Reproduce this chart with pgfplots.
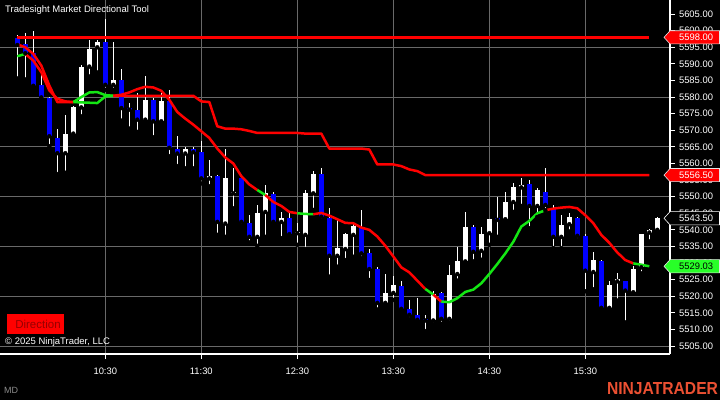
\documentclass[border=0pt]{standalone}
\usepackage{pgfplots}
\pgfplotsset{compat=1.18}
\usepackage{pgfplotstable}
\usepackage{fontspec}
\setmainfont{Liberation Sans}

\definecolor{ntblue}{RGB}{0,0,255}
\definecolor{ntred}{RGB}{255,0,0}
\definecolor{ntgreen}{RGB}{20,230,20}
\definecolor{boxgreen}{RGB}{40,255,40}
\definecolor{gridc}{RGB}{105,105,105}
\definecolor{logoc}{RGB}{235,80,50}
\definecolor{dirtext}{RGB}{150,0,0}
\definecolor{mdgray}{RGB}{140,140,140}

% up bars (white): close >= open
\pgfplotstableread{
i o h l c
6 5563.1 5574.5 5557.2 5569.0
7 5569.0 5577.4 5568.6 5576.9
8 5576.9 5589.7 5574.2 5589.2
9 5589.2 5597.2 5586.2 5594.5
10 5595.0 5597.2 5587.4 5596.5
12 5583.7 5596.7 5582.2 5585.2
16 5573.2 5586.4 5572.4 5579.2
18 5572.7 5581.2 5572.4 5578.7
21 5563.0 5565.0 5558.5 5564.5
24 5555.5 5560.9 5553.1 5556.1
26 5541.9 5564.5 5537.9 5555.7
27 5551.0 5558.5 5546.5 5551.4
30 5537.9 5547.4 5535.2 5545.2
31 5545.4 5553.4 5537.9 5551.2
33 5542.4 5545.4 5537.5 5543.5
35 5539.0 5542.2 5535.5 5539.4
36 5538.5 5551.9 5534.2 5551.0
37 5551.0 5557.7 5546.0 5556.7
40 5532.2 5542.9 5528.9 5534.5
41 5534.2 5539.2 5530.9 5538.7
42 5538.5 5541.7 5531.9 5541.2
46 5518.0 5526.7 5517.5 5521.0
47 5521.0 5526.0 5518.9 5523.4
52 5512.7 5521.5 5511.5 5520.7
54 5513.2 5529.5 5512.0 5526.5
55 5526.7 5534.9 5524.7 5530.7
56 5530.5 5545.4 5529.7 5540.9
58 5533.7 5540.9 5531.0 5538.7
59 5539.0 5543.2 5535.5 5543.2
61 5543.2 5551.4 5542.9 5548.4
62 5548.4 5554.2 5545.4 5552.9
63 5552.8 5555.5 5547.2 5553.4
65 5547.2 5552.7 5543.9 5552.0
68 5537.9 5544.5 5534.5 5541.4
69 5541.7 5545.2 5539.5 5543.9
72 5527.3 5533.2 5522.1 5530.9
74 5516.5 5524.7 5516.2 5523.4
75 5524.5 5526.9 5518.7 5525.3
77 5521.2 5529.0 5521.0 5528.2
78 5528.7 5538.9 5526.9 5538.7
79 5539.2 5540.4 5536.5 5539.9
80 5540.0 5544.0 5538.9 5543.5
}\upbars

% down bars (blue): close < open
\pgfplotstableread{
i o h l c
0 5597.7 5598.7 5585.6 5595.7
1 5596.0 5599.4 5585.3 5593.2
2 5593.2 5599.9 5583.2 5583.4
3 5583.7 5587.9 5579.4 5579.9
4 5579.8 5580.0 5565.2 5568.2
5 5567.8 5570.5 5556.8 5563.1
11 5596.5 5603.6 5582.2 5583.7
13 5585.2 5588.5 5572.9 5576.7
14 5576.6 5578.2 5570.5 5576.2
15 5576.2 5581.2 5569.5 5573.2
17 5579.2 5579.7 5567.9 5572.7
19 5578.7 5582.2 5562.2 5564.7
20 5564.5 5568.4 5559.2 5563.0
22 5564.5 5565.0 5558.5 5563.4
23 5563.5 5566.7 5554.0 5555.5
25 5556.1 5556.4 5538.5 5542.4
28 5555.5 5555.7 5541.2 5542.4
29 5542.2 5544.4 5536.2 5537.9
32 5550.9 5551.4 5541.7 5542.4
34 5543.5 5545.2 5537.9 5538.7
38 5556.7 5558.5 5542.7 5543.9
39 5543.7 5546.5 5525.9 5532.2
43 5540.5 5545.9 5531.5 5532.9
44 5532.9 5534.2 5524.9 5528.2
45 5528.2 5528.7 5516.0 5518.0
48 5523.0 5524.5 5515.5 5516.2
49 5516.2 5518.9 5513.1 5514.4
50 5514.4 5519.4 5512.4 5512.9
51 5513.1 5514.4 5509.5 5512.7
53 5520.9 5521.4 5511.7 5513.2
57 5540.9 5541.5 5530.5 5533.4
60 5543.5 5549.9 5537.9 5543.0
64 5553.7 5555.0 5540.5 5547.2
66 5551.5 5558.7 5545.9 5547.5
67 5546.5 5547.5 5534.5 5537.9
70 5543.7 5543.9 5536.9 5538.2
71 5538.2 5538.7 5521.5 5527.7
73 5530.5 5530.9 5516.2 5516.5
76 5524.5 5524.5 5512.1 5521.7
}\downbars

% directional moving line
\pgfplotstableread{
i v
0 5592.3
1 5593.0
2 5591.0
3 5587.5
4 5582.0
5 5579.5
6 5578.7
7 5578.5
8 5580.0
9 5581.4
10 5581.5
11 5580.6
12 5580.4
13 5580.7
14 5581.4
15 5582.4
16 5583.1
17 5582.9
18 5581.9
19 5579.2
20 5575.5
21 5573.5
22 5571.7
23 5569.7
24 5567.7
25 5564.5
26 5561.8
27 5560.0
28 5556.2
29 5553.7
30 5552.0
31 5550.5
32 5548.4
33 5547.2
34 5545.4
35 5545.0
36 5544.8
37 5544.7
38 5545.1
39 5544.3
40 5543.2
41 5542.1
42 5542.0
43 5540.7
44 5540.0
45 5538.0
46 5535.2
47 5532.0
48 5528.7
49 5527.2
50 5524.7
51 5522.2
52 5520.5
53 5518.4
54 5518.2
55 5519.4
56 5521.3
57 5522.0
58 5523.9
59 5526.7
60 5529.7
61 5532.9
62 5536.4
63 5541.0
64 5542.7
65 5545.0
66 5545.9
67 5546.4
68 5546.7
69 5546.9
70 5546.5
71 5544.4
72 5542.0
73 5538.5
74 5536.1
75 5533.2
76 5530.9
77 5529.9
78 5529.5
79 5529.03
}\maline

% trailing step line
\pgfplotstableread{
i v
0 5595.9
1 5595.0
2 5593.0
3 5589.5
4 5583.5
5 5578.5
6 5578.5
7 5578.5
8 5578.4
9 5578.3
10 5578.2
11 5580.2
12 5580.4
22 5580.4
23 5578.7
24 5578.5
25 5571.2
26 5570.5
27 5570.5
28 5570.3
29 5569.8
30 5569.2
35 5569.2
36 5569.0
38 5569.0
39 5564.5
43 5564.5
44 5564.2
45 5559.7
47 5559.7
48 5559.2
49 5558.2
50 5557.7
51 5556.5
79 5556.5
}\stepline

\pgfplotstableread{
i v
0 5598.0
79 5598.0
}\topline

\begin{document}
\begin{tikzpicture}[x=1pt,y=1pt]
\fill[black] (0,0) rectangle (720,400);
\begin{axis}[
  at={(0pt,46pt)}, anchor=south west,
  scale only axis, width=670pt, height=354pt,
  xmin=-2.1625, xmax=81.5875, ymin=5502.6, ymax=5609.25,
  axis x line*=bottom, axis y line*=right,
  axis line style={white, line width=1.2pt},
  tick style={white, line width=0.8pt},
  major tick length=5pt, minor tick length=0pt,
  tick align=outside,
  xtick={11,23,35,47,59,71},
  xticklabels={10:30,11:30,12:30,13:30,14:30,15:30},
  ytick={5505,5510,...,5605},
  yticklabels={5505.00,5510.00,5515.00,5520.00,5525.00,5530.00,5535.00,5540.00,5545.00,5550.00,5555.00,5560.00,5565.00,5570.00,5575.00,5580.00,5585.00,5590.00,5595.00,5600.00,5605.00},
  minor ytick={5505,5520,5535,5550,5565,5580,5595},
  xmajorgrids=true, ymajorgrids=false, yminorgrids=true,
  major grid style={gridc, line width=0.9pt},
  minor grid style={gridc, line width=0.9pt},
  tick label style={font=\fontsize{9.4}{11}\selectfont, text=white},
  yticklabel style={anchor=west, xshift=0.5pt},
  xticklabel style={yshift=-5.5pt},
  clip=false,
]
% wicks
\addplot[only marks, mark=none, error bars/.cd, y dir=plus, y explicit, error mark=none,
  error bar style={white, line width=1pt}]
  table[x=i, y=l, y error plus expr=\thisrow{h}-\thisrow{l}] {\upbars};
\addplot[only marks, mark=none, error bars/.cd, y dir=plus, y explicit, error mark=none,
  error bar style={white, line width=1pt}]
  table[x=i, y=l, y error plus expr=\thisrow{h}-\thisrow{l}] {\downbars};
% bodies
\addplot[only marks, mark=none, error bars/.cd, y dir=plus, y explicit, error mark=none,
  error bar style={white, line width=5pt}]
  table[x=i, y=o, y error plus expr=\thisrow{c}-\thisrow{o}] {\upbars};
\addplot[only marks, mark=none, error bars/.cd, y dir=plus, y explicit, error mark=none,
  error bar style={ntblue, line width=5pt}]
  table[x=i, y=c, y error plus expr=\thisrow{o}-\thisrow{c}] {\downbars};

% top level line
\addplot[ntred, line width=2.5pt] table[x=i, y=v] {\topline};
% trailing step line
\addplot[ntred, line width=2.5pt, line join=round, restrict x to domain=0:7] table[x=i, y=v] {\stepline};
\addplot[ntgreen, line width=2.5pt, line join=round, restrict x to domain=7:12] table[x=i, y=v] {\stepline};
\addplot[ntred, line width=2.5pt, line join=round, restrict x to domain=12:79] table[x=i, y=v] {\stepline};
% directional line
\addplot[ntgreen, line width=2.5pt, line join=round, restrict x to domain=0:1] table[x=i, y=v] {\maline};
\addplot[ntred, line width=2.5pt, line join=round, restrict x to domain=1:7] table[x=i, y=v] {\maline};
\addplot[ntgreen, line width=2.5pt, line join=round, restrict x to domain=7:12] table[x=i, y=v] {\maline};
\addplot[ntred, line width=2.5pt, line join=round, restrict x to domain=12:30] table[x=i, y=v] {\maline};
\addplot[ntgreen, line width=2.5pt, line join=round, restrict x to domain=30:31] table[x=i, y=v] {\maline};
\addplot[ntred, line width=2.5pt, line join=round, restrict x to domain=31:35] table[x=i, y=v] {\maline};
\addplot[ntgreen, line width=2.5pt, line join=round, restrict x to domain=35:37] table[x=i, y=v] {\maline};
\addplot[ntred, line width=2.5pt, line join=round, restrict x to domain=37:51] table[x=i, y=v] {\maline};
\addplot[ntgreen, line width=2.5pt, line join=round, restrict x to domain=51:52] table[x=i, y=v] {\maline};
\addplot[ntred, line width=2.5pt, line join=round, restrict x to domain=52:53] table[x=i, y=v] {\maline};
\addplot[ntgreen, line width=2.5pt, line join=round, restrict x to domain=53:66] table[x=i, y=v] {\maline};
\addplot[ntred, line width=2.5pt, line join=round, restrict x to domain=66:77] table[x=i, y=v] {\maline};
\addplot[ntgreen, line width=2.5pt, line join=round, restrict x to domain=77:79] table[x=i, y=v] {\maline};

\coordinate (pA) at (axis cs:81.5875,5598);
\coordinate (pB) at (axis cs:81.5875,5556.5);
\coordinate (pC) at (axis cs:81.5875,5543.5);
\coordinate (pD) at (axis cs:81.5875,5529.03);
\end{axis}

% price markers
\newcommand{\pricebox}[5]{%
  \filldraw[fill=#2, draw=#3, line width=0.6pt] ([xshift=-6pt]#1) -- ++(6,6.6) -- ++(49.5,0) -- ++(0,-13.2) -- ++(-49.5,0) -- cycle;
  \node[anchor=west, inner sep=0pt, text=#4, font=\fontsize{9.4}{11}\selectfont] at ([xshift=9pt]#1) {#5};}
\pricebox{pA}{ntred}{white!80!gray}{white}{5598.00}
\pricebox{pB}{ntred}{white!80!gray}{white}{5556.50}
\pricebox{pC}{black}{white}{white}{5543.50}
\pricebox{pD}{boxgreen}{white!80!gray}{black}{5529.03}

% texts
\node[anchor=west, inner sep=0pt, text=white, font=\fontsize{9.5}{11}\selectfont] at (5,390) {Tradesight Market Directional Tool};
\fill[ntred] (7,66) rectangle (64,86);
\node[inner sep=0pt, text=dirtext, font=\fontsize{11.5}{13}\selectfont] at (38,76) {Direction};
\node[anchor=west, inner sep=0pt, text=white, font=\fontsize{9.5}{11}\selectfont] at (5,58) {\textcopyright{} 2025 NinjaTrader, LLC};
\node[anchor=west, inner sep=0pt, text=mdgray, font=\fontsize{9}{11}\selectfont] at (4,10) {MD};
\node[inner sep=0pt, text=logoc] at (662.5,11) {\resizebox{111pt}{12pt}{\bfseries NINJATRADER}};

\pgfresetboundingbox
\path[use as bounding box] (0,0) rectangle (720,400);
\end{tikzpicture}
\end{document}
